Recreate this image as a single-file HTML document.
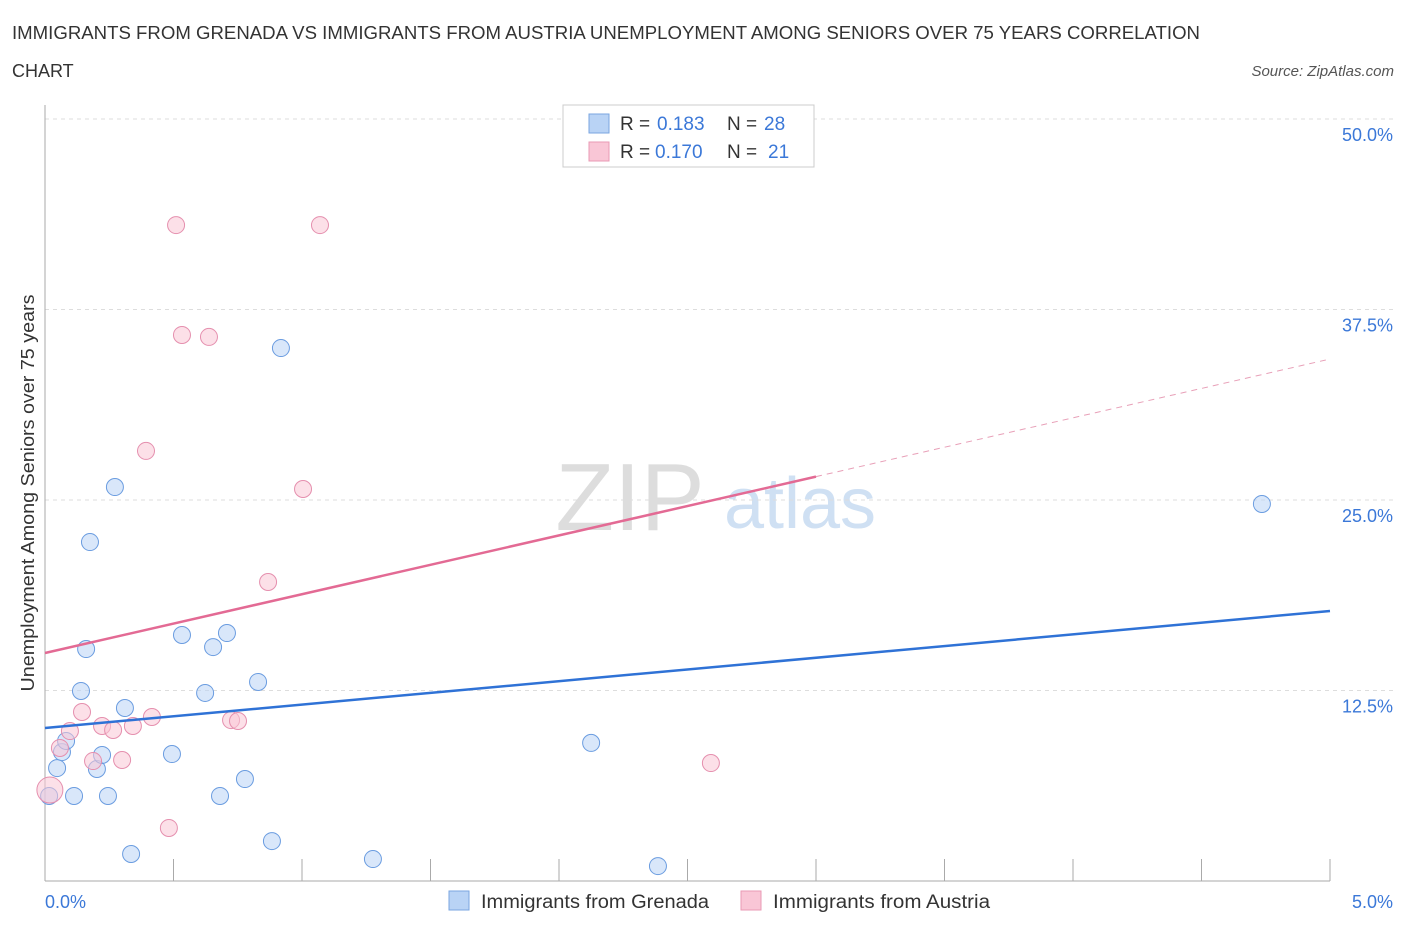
<!DOCTYPE html>
<html><head><meta charset="utf-8"><style>
body{margin:0;background:#fff;font-family:"Liberation Sans",sans-serif;}
svg text{font-family:"Liberation Sans",sans-serif;}
</style></head><body>
<svg id="c" width="1406" height="930">
<text x="12" y="39" font-size="18" fill="#333" textLength="1188" lengthAdjust="spacingAndGlyphs">IMMIGRANTS FROM GRENADA VS IMMIGRANTS FROM AUSTRIA UNEMPLOYMENT AMONG SENIORS OVER 75 YEARS CORRELATION</text>
<text x="12" y="77" font-size="18" fill="#333">CHART</text>
<text x="1394" y="76" font-size="15" fill="#555" font-style="italic" text-anchor="end">Source: ZipAtlas.com</text>
<text x="630" y="530" font-size="96" fill="#ddd" font-family="Liberation Serif" text-anchor="middle">ZIP</text>
<text x="800" y="528" font-size="72" fill="#cfe0f3" text-anchor="middle">atlas</text>
<g id="grid"></g><g id="marks"></g>
<text transform="translate(34,493) rotate(-90)" font-size="18" fill="#333" text-anchor="middle" textLength="397" lengthAdjust="spacingAndGlyphs">Unemployment Among Seniors over 75 years</text>
<text x="45" y="908" font-size="18" fill="#3b78d8">0.0%</text>
<text x="1393" y="908" font-size="18" fill="#3b78d8" text-anchor="end">5.0%</text>
<g>
<rect x="563" y="105" width="251" height="62" fill="#fff" stroke="#ccc"/>
<rect x="589" y="114" width="20" height="19" fill="#b9d3f5" stroke="#7aa6e0"/>
<rect x="589" y="142" width="20" height="19" fill="#f9c6d6" stroke="#e99ab4"/>
<text x="620" y="130" font-size="19" fill="#333">R =</text><text x="657" y="130" font-size="19" fill="#3b78d8">0.183</text>
<text x="727" y="130" font-size="19" fill="#333">N =</text><text x="764" y="130" font-size="19" fill="#3b78d8">28</text>
<text x="620" y="158" font-size="19" fill="#333">R =</text><text x="655" y="158" font-size="19" fill="#3b78d8">0.170</text>
<text x="727" y="158" font-size="19" fill="#333">N =</text><text x="768" y="158" font-size="19" fill="#3b78d8">21</text>
</g>
<g>
<rect x="449" y="891" width="20" height="19" fill="#b9d3f5" stroke="#7aa6e0"/>
<text x="481" y="908" font-size="19" fill="#333" textLength="228" lengthAdjust="spacingAndGlyphs">Immigrants from Grenada</text>
<rect x="741" y="891" width="20" height="19" fill="#f9c6d6" stroke="#e99ab4"/>
<text x="773" y="908" font-size="19" fill="#333" textLength="217" lengthAdjust="spacingAndGlyphs">Immigrants from Austria</text>
</g>
</svg>
<script>
const yTicks=[12.5,25,37.5,50];
const yTickLabels=["12.5%","25.0%","37.5%","50.0%"];
const xTicks=[0,0.5,1,1.5,2,2.5,3,3.5,4,4.5,5];
const blueX=[0.016,0.113,0.245,0.047,0.066,0.082,0.202,0.222,0.140,0.160,0.175,0.272,0.311,0.335,0.494,0.533,0.654,0.623,0.708,0.681,0.778,0.829,0.883,0.918,1.276,2.125,2.385,4.735];
const blueY=[5.58,5.58,5.58,7.41,8.46,9.19,7.35,8.27,12.47,15.22,22.24,25.85,11.35,1.77,8.33,16.14,15.35,12.34,16.27,5.58,6.69,13.06,2.62,34.97,1.44,9.06,0.98,24.74];
const pinkX=[0.019,0.058,0.097,0.144,0.187,0.222,0.265,0.300,0.342,0.416,0.482,0.393,0.510,0.533,0.638,0.724,0.751,0.868,1.004,1.070,2.591];
const pinkY=[5.97,8.73,9.84,11.09,7.87,10.17,9.91,7.94,10.17,10.76,3.48,28.22,43.04,35.83,35.70,10.56,10.50,19.62,25.72,43.04,7.74];
const blueLine=[10.04,17.72];
const pinkLine=[14.96,34.25];
const pinkSolidEnd=3.0;
const NS="http://www.w3.org/2000/svg";
const X=v=>45+v*257;
const Y=v=>881-v*15.24;
function mk(tag,attrs,parent){const e=document.createElementNS(NS,tag);for(const k in attrs)e.setAttribute(k,attrs[k]);parent.appendChild(e);return e;}
const grid=document.getElementById('grid'),marks=document.getElementById('marks');
yTicks.forEach((t,i)=>{
 const l=mk('line',{x1:45,x2:1394,y1:Y(t),y2:Y(t),stroke:'#ddd','stroke-dasharray':'4,4'},grid);
 
 
 const tx=mk('text',{x:1393,y:Y(t)+22,'font-size':18,fill:'#3b78d8','text-anchor':'end'},grid);
 tx.textContent=yTickLabels[i];
 
 
});
const ax=mk('line',{x1:45,x2:45,y1:105,y2:881,stroke:'#aaa'},grid);


const bx=mk('line',{x1:45,x2:1330,y1:881,y2:881,stroke:'#aaa'},grid);


xTicks.forEach(t=>{
 const l=mk('line',{x1:X(t),x2:X(t),y1:859,y2:881,stroke:'#aaa'},grid);
 
 
});
function dots(xs,ys,fill,stroke,name,big){xs.forEach((x,i)=>{
 const c=mk('circle',{cx:X(x),cy:Y(ys[i]),r:(big&&i===0)?13:8.5,fill:fill,stroke:stroke,'stroke-width':1,'fill-opacity':0.55},marks);
 
 
});}
dots(blueX,blueY,'#b9d3f5','#6a9ce0','grenada-point',false);
dots(pinkX,pinkY,'#f9c6d6','#e58fae','austria-point',true);
const bl=mk('line',{x1:X(0),y1:Y(blueLine[0]),x2:X(5),y2:Y(blueLine[1]),stroke:'#2f72d6','stroke-width':2.5},marks);


const py=x=>pinkLine[0]+(pinkLine[1]-pinkLine[0])*x/5;
const pl=mk('line',{x1:X(0),y1:Y(py(0)),x2:X(pinkSolidEnd),y2:Y(py(pinkSolidEnd)),stroke:'#e36a94','stroke-width':2.5},marks);


const pd=mk('line',{x1:X(pinkSolidEnd),y1:Y(py(pinkSolidEnd)),x2:X(5),y2:Y(py(5)),stroke:'#e8a0b8','stroke-width':1,'stroke-dasharray':'6,5'},marks);


</script>
</body></html>
